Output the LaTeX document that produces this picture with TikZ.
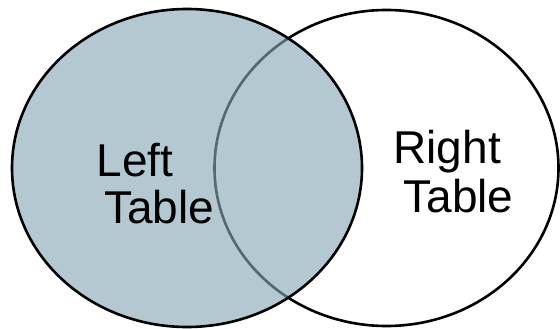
\documentclass[tikz,border=0pt]{standalone}
\usepackage{fontspec}
\setmainfont{Liberation Sans}
\definecolor{setfill}{RGB}{135,167,183}
\tikzset{
  setline/.style={draw=black, line width=2.6pt},
  lbl/.style={anchor=base west, inner sep=0pt, outer sep=0pt, font=\fontsize{46}{51}\selectfont}
}
\begin{document}
\begin{tikzpicture}[x=1pt,y=-1pt]
\useasboundingbox (0,0) rectangle (560,329);
% right table outline (underneath)
\draw[setline] (386.5,168) ellipse [x radius=172, y radius=158];
% left table translucent fill
\fill[setfill, fill opacity=0.627] (187,168) ellipse [x radius=175, y radius=159];
\draw[setline] (187,168) ellipse [x radius=175, y radius=159];
% labels
\node[lbl] (l1) at (96.5,176) {Left};
\node[lbl] (l2) at (104,223) {Table};
\node[lbl] (r1) at (393.5,163) {Right};
\node[lbl] (r2) at (403.5,212) {Table};
\end{tikzpicture}
\end{document}
